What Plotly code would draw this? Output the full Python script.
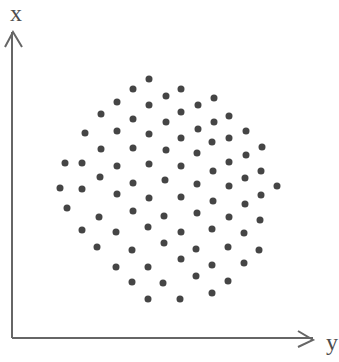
import plotly.graph_objects as go

# dot positions (horizontal axis is "y", vertical axis is "x")
y_vals = [137, 121, 154, 105, 137, 89, 121, 154, 73, 105, 137, 89, 121, 154,
          53, 70, 105, 137, 88, 153, 48, 70, 121, 169, 186, 202, 169, 202,
          217, 186, 169, 200, 217, 234, 185, 234, 250, 169, 217, 201, 249,
          185, 217, 233, 265, 105, 137, 55, 87, 121, 152, 70, 104, 136, 152,
          85, 120, 104, 136, 120, 151, 136, 169, 201, 233, 249, 185, 217,
          248, 169, 200, 232, 184, 216, 247, 169, 200, 232, 184, 216, 168, 200]
x_vals = [259, 249, 242, 236, 233, 224, 219, 216, 205, 207, 204, 189, 190, 188,
          175, 175, 172, 174, 161, 158, 150, 149, 155, 249, 233, 240, 226, 216,
          222, 209, 200, 196, 200, 207, 185, 183, 191, 172, 176, 167, 167,
          154, 152, 160, 152, 144, 140, 130, 121, 127, 122, 108, 106, 111, 95,
          91, 88, 71, 71, 56, 55, 39, 141, 137, 134, 143, 125, 121,
          118, 106, 109, 105, 89, 91, 88, 79, 73, 75, 62, 57, 39, 45]

axis_color = "#666666"
x_len = 301   # length of the horizontal arrow
y_len = 306   # length of the vertical arrow

fig = go.Figure()
fig.add_trace(go.Scatter(
    x=y_vals, y=x_vals, mode="markers",
    marker=dict(size=7, color="#454545"),
    hoverinfo="skip", showlegend=False,
))

# hidden axes, the drawn arrows stand in for them
fig.update_xaxes(range=[-12, 327], visible=False)
fig.update_yaxes(range=[-24, 338], visible=False)

line = dict(color=axis_color, width=2)
fig.add_shape(type="line", x0=0, y0=0, x1=0, y1=y_len, line=line)
fig.add_shape(type="line", x0=0, y0=0, x1=x_len, y1=0, line=line)
fig.add_shape(type="path", path=f"M -7 {y_len - 15} L 1 {y_len} L 10 {y_len - 15}", line=line)
fig.add_shape(type="path", path=f"M {x_len - 15} 7 L {x_len} -2 L {x_len - 15} -9", line=line)

label_font = dict(family="Liberation Serif", size=24, color="#4d4d4d")
fig.add_annotation(x=4, y=325, text="x", showarrow=False, font=label_font,
                   xanchor="center", yanchor="middle")
fig.add_annotation(x=319.5, y=-4, text="y", showarrow=False, font=label_font,
                   xanchor="center", yanchor="middle")

fig.update_layout(
    width=339, height=362,
    margin=dict(l=0, r=0, t=0, b=0),
    plot_bgcolor="white", paper_bgcolor="white",
)

# drop the page's default body margin so the figure fills the window
fig.write_html("out.html", config={"displayModeBar": False},
               post_script="document.body.style.margin='0';document.body.style.overflow='hidden';")
